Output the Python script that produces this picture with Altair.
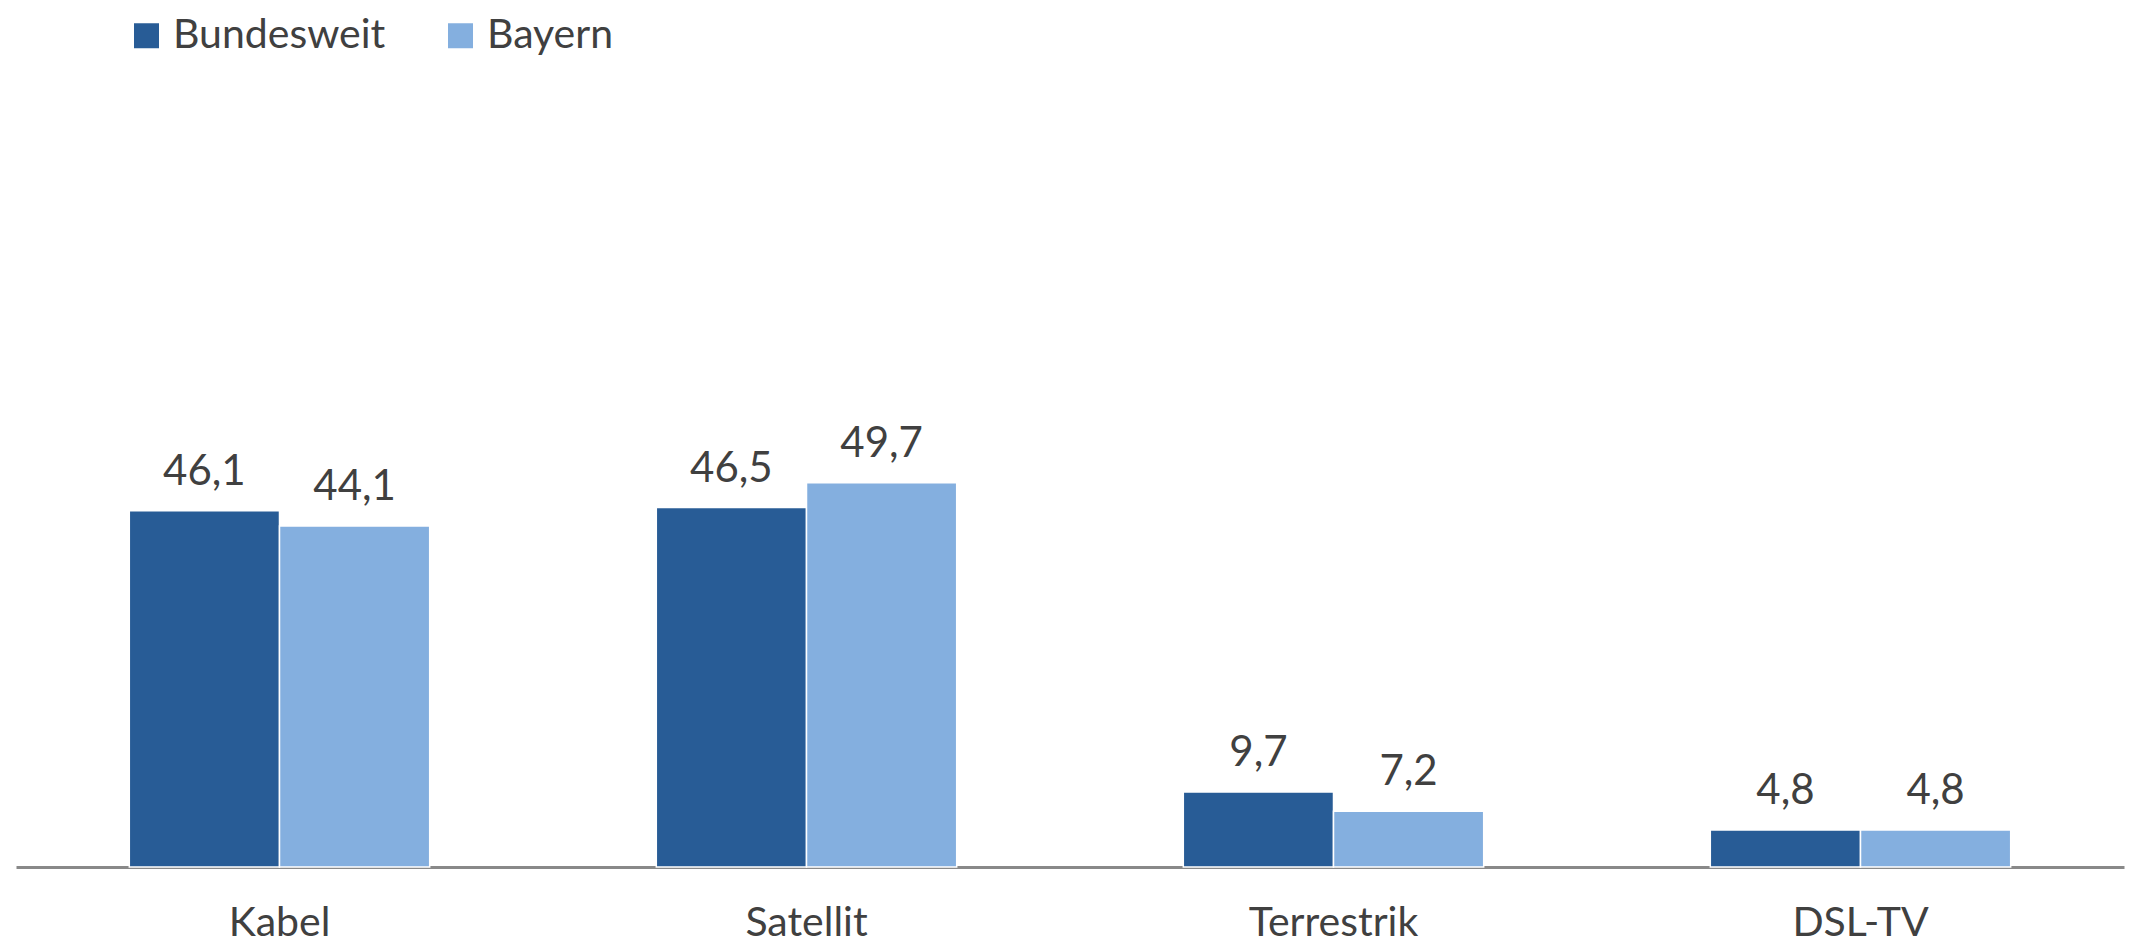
import altair as alt
import pandas as pd

categories = ["Kabel", "Satellit", "Terrestrik", "DSL-TV"]
series = ["Bundesweit", "Bayern"]
bundesweit = [46.1, 46.5, 9.7, 4.8]
bayern = [44.1, 49.7, 7.2, 4.8]
colors = ["#285C96", "#84AFDF"]

rows = []
for i, c in enumerate(categories):
    for s, vals in zip(series, [bundesweit, bayern]):
        rows.append({"Kategorie": c, "Reihe": s, "Wert": vals[i],
                     "Label": f"{vals[i]:.1f}".replace(".", ",")})
df = pd.DataFrame(rows)

FONT = "Lato"
TXT = "#404040"

x = alt.X("Kategorie:N", sort=categories,
          scale=alt.Scale(paddingInner=0.43, paddingOuter=0.215),
          axis=alt.Axis(title=None, labelAngle=0, ticks=False, labelFont=FONT,
                        labelFontSize=41, labelColor=TXT, labelPadding=36,
                        domainColor="#898989", domainWidth=3, grid=False))
xo = alt.XOffset("Reihe:N", sort=series, scale=alt.Scale(paddingInner=0, paddingOuter=0))
y = alt.Y("Wert:Q", scale=alt.Scale(domain=[0, 100]), axis=None)

bars = alt.Chart(df).mark_bar(stroke="white", strokeWidth=1.5).encode(
    x=x, xOffset=xo, y=y,
    color=alt.Color("Reihe:N", sort=series,
                    scale=alt.Scale(domain=series, range=colors),
                    legend=alt.Legend(title=None, orient="none", direction="horizontal",
                                      legendX=110, legendY=-79,
                                      symbolType="square", symbolSize=625,
                                      symbolStrokeWidth=0, symbolOpacity=1,
                                      labelFont=FONT, labelFontSize=41,
                                      labelColor=TXT, labelOffset=6, labelLimit=0,
                                      columnPadding=54))
)

labels = alt.Chart(df).mark_text(font=FONT, fontSize=42, color=TXT,
                                 baseline="alphabetic", dy=-26).encode(
    x=x, xOffset=xo, y=y, text="Label:N"
)

chart = (bars + labels).properties(
    width=2108, height=773,
    padding={"left": 8, "top": 86, "right": 3, "bottom": 80},
    autosize=alt.AutoSizeParams(type="none"),
).configure_view(stroke=None)

chart.save("out.html", embed_options={"renderer": "svg", "actions": False})
